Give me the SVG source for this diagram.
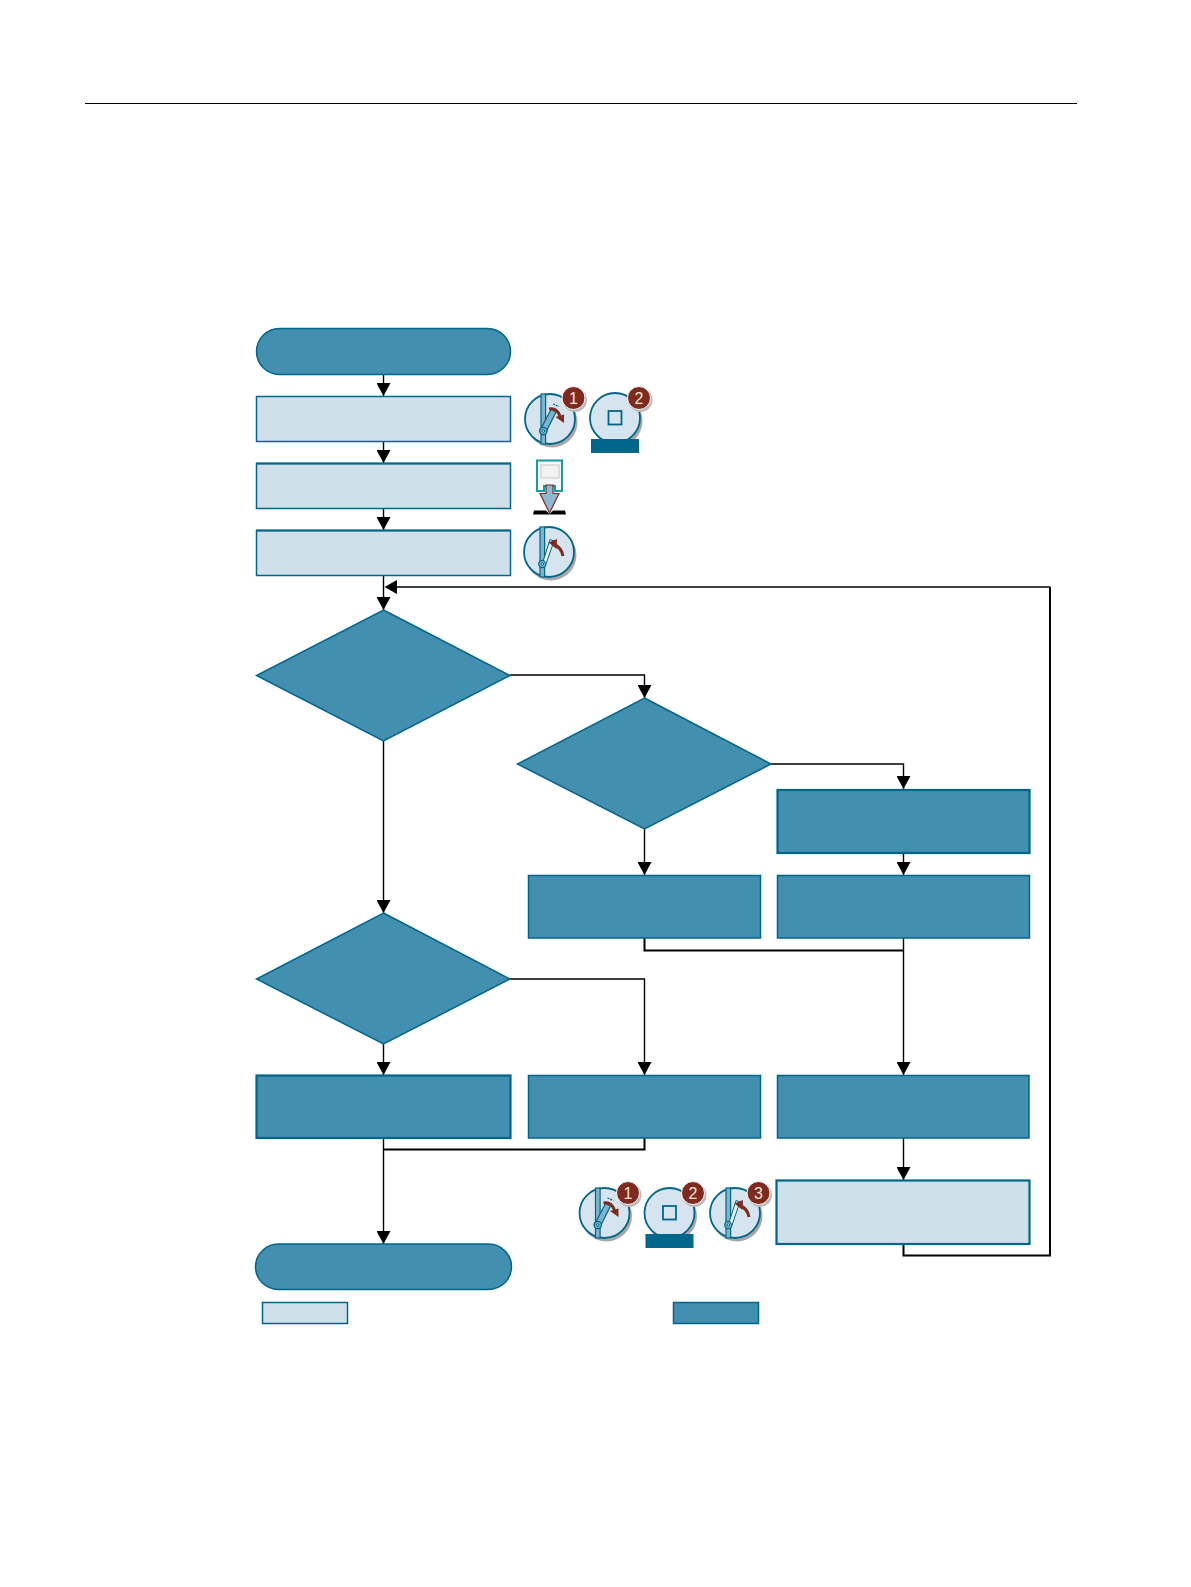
<svg xmlns="http://www.w3.org/2000/svg" xmlns:xlink="http://www.w3.org/1999/xlink" width="1191" height="1587" viewBox="0 0 1191 1587">
<style>
.dark{fill:#428fb0;stroke:#00668a;stroke-width:1.5}
.light{fill:#cfe0ea;stroke:#00668a;stroke-width:1.5}
.thick{stroke-width:2.2}
.conn{fill:none;stroke:#000;stroke-width:1.4}
.conn2{fill:none;stroke:#000;stroke-width:2}
.ic{fill:#d5e4ee;stroke:#00668a;stroke-width:1.8}
.shadow{fill:#a8a8a8}
.badge{fill:#7f2a1e;stroke:#fff;stroke-width:1}
.num{font-family:"Liberation Sans",Arial,sans-serif;font-size:16px;fill:#f3e4da;text-anchor:middle}
.red{fill:none;stroke:#7f2a1e;stroke-width:3}
.redf{fill:#7f2a1e}
.bar{fill:#7fb2cc;stroke:#00668a;stroke-width:1.2}
.teal{fill:#00668a}
</style>
<defs>
<marker id="ah" markerUnits="userSpaceOnUse" markerWidth="14" markerHeight="14" refX="13" refY="7" orient="auto"><path d="M0 0L13 7L0 14Z" fill="#000"/></marker>
<g id="disc"><circle cx="2" cy="3" r="25.5" class="shadow"/><circle r="25" class="ic"/></g>
<g id="leverBase"><use xlink:href="#disc"/><rect x="-9" y="-25" width="4.600" height="50" class="bar"/><circle cx="-6.700" cy="12" r="3.600" class="bar"/><circle cx="-6.700" cy="12" r="1.300" fill="#d5e4ee" stroke="#00668a"/></g>
<g id="leverDown"><use xlink:href="#leverBase"/><path d="M-9.500 10.500L1 -9.500L6 -7L-4 13Z" class="bar"/><circle cx="-6.700" cy="12" r="3.600" class="bar"/><circle cx="-6.700" cy="12" r="1.300" fill="#d5e4ee" stroke="#00668a"/><path d="M3 -15L9 -12.500" fill="none" stroke="#00668a" stroke-width="1.200" stroke-dasharray="2 1"/><path d="M-1 -10C4 -11 8 -8 10 -3" class="red"/><path d="M5.500 -2L14 -4.500L14 4Z" class="redf"/></g>
<g id="leverUp"><use xlink:href="#leverBase"/><path d="M-5.500 8L1 -12.500L5 -11L-3 12Z" fill="#e8f0f5" stroke="#00668a" stroke-width="1"/><path d="M14 4C13 -2 9 -6 4 -8" class="red"/><path d="M-0.500 -9.500L8 -13L7.500 -3Z" class="redf"/></g>
<g id="stopBtn"><use xlink:href="#disc"/><rect x="-6.500" y="-7" width="13" height="13.500" fill="none" stroke="#00668a" stroke-width="1.800"/><rect x="-24" y="21" width="48" height="14" class="teal"/></g>
<g id="badge"><circle cx="1.500" cy="2" r="12" fill="#bbb"/><circle r="11.500" class="badge"/></g>
</defs>
<path d="M85 103.500H1077" stroke="#000" stroke-width="1" fill="none"/>
<g id="connectors">
<path class="conn" d="M383.500 374V396" marker-end="url(#ah)"/>
<path class="conn" d="M383.500 441V463" marker-end="url(#ah)"/>
<path class="conn" d="M383.500 508V530" marker-end="url(#ah)"/>
<path class="conn" d="M383.500 576V610" marker-end="url(#ah)"/>
<path class="conn" d="M383.500 741V913" marker-end="url(#ah)"/>
<path class="conn" d="M510 675H644.500V698" marker-end="url(#ah)"/>
<path class="conn" d="M644.500 829V875" marker-end="url(#ah)"/>
<path class="conn" d="M771 764H903.500V789" marker-end="url(#ah)"/>
<path class="conn" d="M903.500 853V875" marker-end="url(#ah)"/>
<path class="conn" d="M903.500 938V1075" marker-end="url(#ah)"/>
<path class="conn2" d="M644.500 938V950.500H903.500"/>
<path class="conn" d="M510 979H644.500V1075" marker-end="url(#ah)"/>
<path class="conn" d="M383.500 1044V1075" marker-end="url(#ah)"/>
<path class="conn" d="M383.500 1138V1244" marker-end="url(#ah)"/>
<path class="conn2" d="M383.500 1149.500H644.500V1138"/>
<path class="conn" d="M903.500 1138V1180" marker-end="url(#ah)"/>
<path class="conn2" d="M903.500 1244V1255.500H1050V587"/>
<path class="conn" d="M1050.500 587H396"/>
<path d="M384.500 587L397 580V594Z" fill="#000"/>
</g>
<g id="start"><rect class="dark" x="256.500" y="328.500" width="254" height="46" rx="23"/></g>
<g id="step1"><rect class="light" x="256.500" y="396.500" width="254" height="45"/></g>
<g id="step2"><rect class="light" x="256.500" y="463.500" width="254" height="45"/><path d="M256 463.500H511" stroke="#00668a" stroke-width="2.200"/></g>
<g id="step3"><rect class="light" x="256.500" y="530.500" width="254" height="45"/><path d="M256 530.500H511" stroke="#00668a" stroke-width="2.200"/></g>
<g id="decision1"><polygon class="dark" points="383.500,610 510,675.500 383.500,741 256.500,675.500"/></g>
<g id="decision2"><polygon class="dark" points="644.500,698 771,764 644.500,829 517.500,764"/></g>
<g id="decision3"><polygon class="dark" points="383.500,913 510,979 383.500,1044 256.500,979"/></g>
<g id="boxA"><rect class="dark thick" x="777.500" y="790" width="252" height="63"/></g>
<g id="boxB"><rect class="dark" x="777.500" y="875.500" width="252" height="62.500"/></g>
<g id="boxC"><rect class="dark" x="528.500" y="875.500" width="232" height="62.500"/></g>
<g id="boxD"><rect class="dark thick" x="256.500" y="1075.500" width="254" height="62.500"/></g>
<g id="boxE"><rect class="dark" x="528.500" y="1075.500" width="232" height="62.500"/></g>
<g id="boxF"><rect class="dark" x="777.500" y="1075.500" width="251.500" height="62.500"/></g>
<g id="boxG"><rect class="light thick" x="776.500" y="1180.500" width="253" height="63.500"/></g>
<g id="end"><rect class="dark" x="255.500" y="1244" width="256" height="45.500" rx="23"/></g>
<g id="legendLight"><rect class="light" x="262.500" y="1302.500" width="85" height="21"/></g>
<g id="legendDark"><rect class="dark" x="673.500" y="1302.500" width="85" height="21"/></g>
<g id="icons1">
<use xlink:href="#leverDown" x="550" y="419"/>
<use xlink:href="#badge" x="573.500" y="398"/><text class="num" x="573.500" y="403.500">1</text>
<use xlink:href="#stopBtn" x="615" y="418"/>
<use xlink:href="#badge" x="639" y="398"/><text class="num" x="639" y="403.500">2</text>
</g>
<g id="iconCard">
<path d="M537 491V460.500H562V491H555V486H544V491Z" fill="#f4f7f8" stroke="#1a9aa0" stroke-width="2"/>
<rect x="541" y="465" width="18" height="13" fill="#f2f2f2" stroke="#c8c8c8"/>
<path d="M546 485H553V493.500H559L549.500 513L540 493.500H546Z" fill="#8fb6d2" stroke="#7f2a1e" stroke-width="1.200"/>
<path d="M534 510.500H546L549.500 514L553 510.500H565L566 514.500H533Z" fill="#000"/>
</g>
<g id="iconUp"><use xlink:href="#leverUp" x="549" y="552"/></g>
<g id="icons2">
<use xlink:href="#leverDown" x="604.500" y="1213"/>
<use xlink:href="#badge" x="628" y="1193"/><text class="num" x="628" y="1198.500">1</text>
<use xlink:href="#stopBtn" x="669.500" y="1213"/>
<use xlink:href="#badge" x="693" y="1193"/><text class="num" x="693" y="1198.500">2</text>
<use xlink:href="#leverUp" x="735" y="1213"/>
<use xlink:href="#badge" x="758.500" y="1193"/><text class="num" x="758.500" y="1198.500">3</text>
</g>
</svg>
